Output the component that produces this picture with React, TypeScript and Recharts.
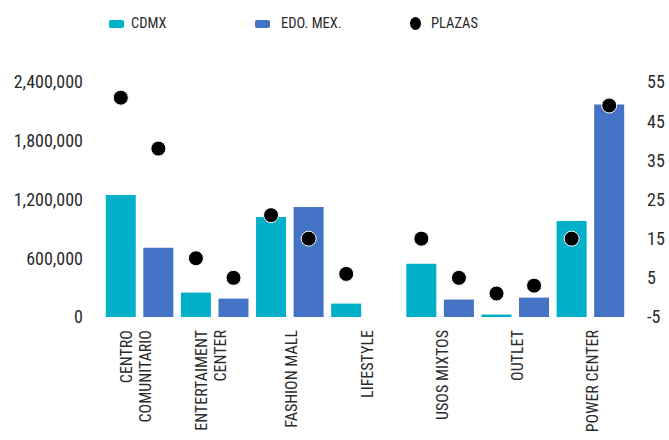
import { ComposedChart, Bar, Line, XAxis, YAxis, Legend } from 'recharts';

const FONT = "'Roboto Condensed', 'Liberation Sans Narrow', 'Arial Narrow', Roboto, sans-serif";
const TEXT = '#2b2b2b';
const CDMX_COLOR = '#00AFC8';
const EDO_COLOR = '#4472C4';

// categorías (saltos de línea como en el original)
const categoryLines: string[][] = [
  ['CENTRO', 'COMUNITARIO'],
  ['ENTERTAIMENT', 'CENTER'],
  ['FASHION MALL'],
  ['LIFESTYLE'],
  ['USOS MIXTOS'],
  ['OUTLET'],
  ['POWER CENTER'],
];

// superficie (m2)
const cdmxArea = [1245000, 249000, 1022000, 137000, 544000, 25000, 981000];
const edoArea = [706000, 188000, 1124000, 0, 178000, 198000, 2171000];

// número de plazas
const cdmxPlazas = [51, 10, 21, 6, 15, 1, 15];
const edoPlazas: (number | null)[] = [38, 5, 15, null, 5, 3, 49];

const leftTicks = [0, 600000, 1200000, 1800000, 2400000];
const rightTicks = [-5, 5, 15, 25, 35, 45, 55];

// one slot per bar, so the dots sit over their own bar
const data = categoryLines.flatMap((_, i) => [
  { key: `${i}-cdmx`, group: i, cdmx: cdmxArea[i], edo: 0, plazas: cdmxPlazas[i] },
  { key: `${i}-edo`, group: i, cdmx: 0, edo: edoArea[i], plazas: edoPlazas[i] },
]);

function CategoryTick(props: any) {
  const { x, y, index, payload } = props;
  if (index % 2 !== 0) return null;
  const lines = categoryLines[data[index].group];
  const cx = x + (payload?.offset ?? 0) + (lines.length > 1 ? -4 : 2);
  const top = y + 5;
  const step = 19;
  return (
    <g>
      {lines.map((line, j) => {
        const lx = cx + (j - (lines.length - 1) / 2) * step;
        return (
          <text
            key={j}
            x={lx}
            y={top}
            transform={`rotate(-90, ${lx}, ${top})`}
            textAnchor="end"
            dominantBaseline="central"
            fill={TEXT}
            fontSize={16}
            fontFamily={FONT}
          >
            {line}
          </text>
        );
      })}
    </g>
  );
}

function ChartLegend() {
  const item = { position: 'absolute' as const, top: 15, display: 'flex', alignItems: 'center', fontSize: 14.5, color: TEXT, fontFamily: FONT, lineHeight: '17px' };
  return (
    <div style={{ position: 'relative', height: 82 }}>
      <div style={{ ...item, left: 109 }}>
        <span style={{ width: 15, height: 8, background: CDMX_COLOR, borderRadius: 2, marginRight: 7 }} />
        CDMX
      </div>
      <div style={{ ...item, left: 255 }}>
        <span style={{ width: 15, height: 8, background: EDO_COLOR, borderRadius: 2, marginRight: 11 }} />
        EDO. MEX.
      </div>
      <div style={{ ...item, left: 410 }}>
        <span style={{ width: 11, height: 13, background: '#000', borderRadius: '50%', marginRight: 10 }} />
        PLAZAS
      </div>
    </div>
  );
}

export default function App() {
  return (
    <div style={{ width: 669, height: 440, background: '#fff' }}>
      <style>{'body{margin:0}'}</style>
      <ComposedChart
        width={669}
        height={440}
        data={data}
        margin={{ top: 0, right: 0, bottom: 0, left: 0 }}
        barCategoryGap="10%"
      >
        <Legend verticalAlign="top" content={() => <ChartLegend />} />
        <XAxis dataKey="key" interval={0} tickLine={false} axisLine={false} height={123} tick={<CategoryTick />} />
        <YAxis
          yAxisId="left"
          width={102}
          domain={[0, 2400000]}
          ticks={leftTicks}
          tickFormatter={(v: number) => v.toLocaleString('en-US')}
          tickLine={false}
          axisLine={false}
          tickMargin={13}
          tick={{ fontSize: 18, fill: TEXT, fontFamily: FONT }}
        />
        <YAxis
          yAxisId="right"
          orientation="right"
          width={41}
          domain={[-5, 55]}
          ticks={rightTicks}
          tickLine={false}
          axisLine={false}
          tickMargin={13}
          tick={{ fontSize: 18, fill: TEXT, fontFamily: FONT, textAnchor: 'start' }}
        />
        <Bar yAxisId="left" dataKey="cdmx" stackId="s" fill={CDMX_COLOR} name="CDMX" isAnimationActive={false} />
        <Bar yAxisId="left" dataKey="edo" stackId="s" fill={EDO_COLOR} name="EDO. MEX." isAnimationActive={false} />
        <Line
          yAxisId="right"
          dataKey="plazas"
          name="PLAZAS"
          stroke="none"
          dot={{ r: 7.5, fill: '#000', stroke: '#fff', strokeWidth: 1 }}
          activeDot={false}
          connectNulls={false}
          isAnimationActive={false}
        />
      </ComposedChart>
    </div>
  );
}
